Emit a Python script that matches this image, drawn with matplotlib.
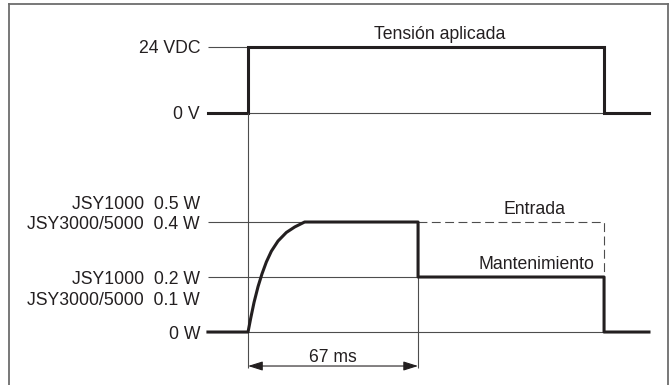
"""
Timing chart: applied voltage and coil power (pull-in / holding)
"""

### Import modules
import numpy as np
import matplotlib.pyplot as plt

### Time marks [ms]
t_start = -15.8
t_on = 0.0
t_hold = 67.0
t_off = 140.3
t_end = 158.0

### Voltage levels
v_high = 24
v_low = 0

### Power levels [W]
p_pull = 0.4
p_hold = 0.2
p_zero = 0.0

### Rise of the coil power after switch-on
rise_t = [0.0, 1.05, 2.37, 3.94, 5.52, 7.23, 9.2, 11.83, 15.1, 18.4, 22.3]
rise_p = [0.0, 0.050, 0.108, 0.165, 0.212, 0.255, 0.294, 0.331, 0.362, 0.382,
          0.4]

### Labels
v_labels = ['24 VDC', '0 V']
pull_labels = ['JSY1000  0.5 W', 'JSY3000/5000  0.4 W']
hold_labels = ['JSY1000  0.2 W', 'JSY3000/5000  0.1 W']
zero_label = '0 W'
dim_label = '67 ms'

###############################################################################
### Plot figure
plt.rc('font', family=['Liberation Sans', 'DejaVu Sans'], size=12.7)
txtcol = '#231f20'
thick = '#231f20'
thin = '#4d4d4d'

fig = plt.figure(figsize=(6.72, 3.85), dpi=100)
ax = fig.add_axes([9/672., -10/385., 659/672., 391/385.])
axp = ax.twinx()

ax.set_xlim(-94.2, 165.5)
ax.set_ylim(-102.5, 39.6)
axp.set_ylim(-0.229, 1.1927)

for a in (ax, axp):
    a.set_xticks([])
    a.set_yticks([])
axp.patch.set_visible(False)
for loc, spine in axp.spines.items():
    spine.set_visible(False)
for loc, spine in ax.spines.items():
    if loc == 'bottom':
        spine.set_visible(False)
    else:
        spine.set_color('#6d6d6d')
        spine.set_linewidth(1.3)

lw_thin = 0.8
lw_thick = 2.2

### Voltage: reference lines and trace
ax.hlines(v_high, t_start, t_on, color=thin, lw=lw_thin)
ax.hlines(v_low, t_start, t_off, color=thin, lw=lw_thin)
ax.plot([t_start, t_on, t_on, t_off, t_off, t_end],
        [v_low, v_low, v_high, v_high, v_low, v_low],
        color=thick, lw=lw_thick, solid_joinstyle='miter', zorder=3)

### Power: reference lines
axp.hlines(p_pull, t_start, rise_t[-1], color=thin, lw=lw_thin)
axp.hlines(p_hold, t_start, t_hold, color=thin, lw=lw_thin)
axp.hlines(p_zero, t_start, t_off, color=thin, lw=lw_thin)

### Power trace
pw_t = [t_start] + rise_t + [t_hold, t_hold, t_off, t_off, t_end]
pw_p = [p_zero] + rise_p + [p_pull, p_hold, p_hold, p_zero, p_zero]
axp.plot(pw_t, pw_p, color=thick, lw=lw_thick, solid_joinstyle='round',
         zorder=3)

### Pull-in power if held (dashed)
axp.plot([t_hold, t_off, t_off], [p_pull, p_pull, p_hold], color=thin,
         lw=lw_thin, dashes=(8, 4), zorder=2)

### Extension lines and 67 ms dimension
y_dim = -0.1236
y_ext = -0.131
y_top0 = axp.transData.inverted().transform(
    ax.transData.transform((t_on, v_low)))[1]
axp.vlines(t_on, y_ext, y_top0, color=thin, lw=lw_thin)
axp.vlines(t_hold, y_ext, p_pull, color=thin, lw=lw_thin)
axp.annotate('', xy=(t_hold, y_dim), xytext=(t_on, y_dim),
             arrowprops=dict(arrowstyle='<|-|>,head_length=0.7,head_width=0.22',
                             color=thick, lw=lw_thin, shrinkA=0, shrinkB=0))
axp.text((t_on + t_hold)/2., -0.084, dim_label, ha='center',
         va='center_baseline', color=txtcol)

### Level labels
x_lab = -18.9
ax.text(x_lab, v_high, v_labels[0], ha='right', va='center_baseline',
        color=txtcol)
ax.text(x_lab, v_low, v_labels[1], ha='right', va='center_baseline',
        color=txtcol)
axp.text(x_lab, 0.4727, pull_labels[0], ha='right', va='center_baseline',
         color=txtcol)
axp.text(x_lab, p_pull, pull_labels[1], ha='right', va='center_baseline',
         color=txtcol)
axp.text(x_lab, p_hold, hold_labels[0], ha='right', va='center_baseline',
         color=txtcol)
axp.text(x_lab, 0.1236, hold_labels[1], ha='right', va='center_baseline',
         color=txtcol)
axp.text(x_lab, p_zero, zero_label, ha='right', va='center_baseline',
         color=txtcol)

### Trace names
ax.text(75.7, 29.1, 'Tensión aplicada', ha='center', va='center_baseline',
        color=txtcol)
axp.text(112.7, 0.4545, 'Entrada', ha='center', va='center_baseline',
         color=txtcol)
axp.text(136.4, 0.2545, 'Mantenimiento', ha='right', va='center_baseline',
         color=txtcol)

plt.savefig('out.png', dpi=100)
